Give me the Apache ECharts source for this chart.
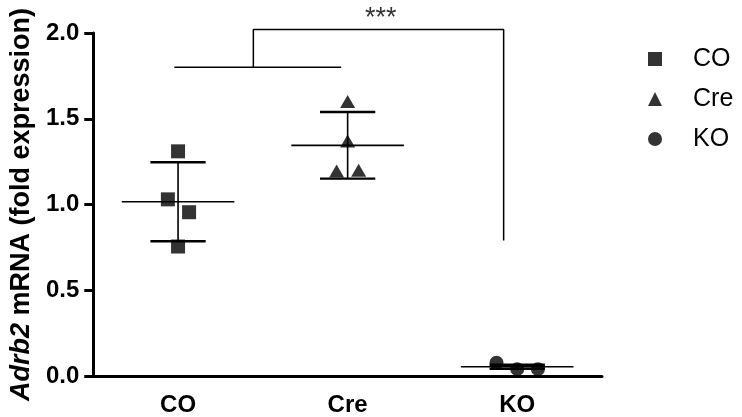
<!DOCTYPE html>
<html>
<head>
<meta charset="utf-8">
<script src="https://cdn.jsdelivr.net/npm/echarts@6/dist/echarts.min.js"></script>
<style>
  html, body { margin: 0; padding: 0; background: #fff; }
  #chart { width: 742px; height: 417px; }
</style>
</head>
<body>
<div id="chart"></div>
<script>
// groups on the x axis
const categories = ['CO', 'Cre', 'KO'];

// individual points (fold expression) and their horizontal jitter within the group
const coValues = [1.31, 1.03, 0.955, 0.755];
const coJitter = [0, -0.06, 0.065, 0];
const creValues = [1.60, 1.37, 1.195, 1.20];
const creJitter = [0, 0, -0.065, 0.065];
const koValues = [0.077, 0.04, 0.04];
const koJitter = [-0.122, 0, 0.122];

// mean and SD per group
const means = [1.016, 1.345, 0.054];
const sds = [0.23, 0.194, 0.012];

// significance bracket (x in group units, y in data units)
const bracketLow = [[0.478, 1.8], [1.462, 1.8]];
const bracketHigh = [[0.944, 1.8], [0.944, 2.02], [2.42, 2.02], [2.42, 0.79]];
const starLabel = '***';
const starPos = [1.695, 2.085];

const font = '"Liberation Sans", Arial, sans-serif';

function pts(values, jitter, idx) {
  return values.map((v, i) => [idx + 0.5 + jitter[i], v]);
}

function renderErrorBar(params, api) {
  const x = api.value(0), m = api.value(1), sd = api.value(2);
  const meanL = api.coord([x - 0.332, m]);
  const meanR = api.coord([x + 0.332, m]);
  const top = api.coord([x, m + sd]);
  const bot = api.coord([x, m - sd]);
  const capW = api.size([0.163, 0])[0];
  const black = { stroke: '#000', lineWidth: 1.6 };
  const cap = { stroke: '#000', lineWidth: 2.4 };
  return {
    type: 'group',
    children: [
      { type: 'line', shape: { x1: meanL[0], y1: meanL[1], x2: meanR[0], y2: meanR[1] }, style: black },
      { type: 'line', shape: { x1: top[0], y1: top[1], x2: bot[0], y2: bot[1] }, style: black },
      { type: 'line', shape: { x1: top[0] - capW, y1: top[1], x2: top[0] + capW, y2: top[1] }, style: cap },
      { type: 'line', shape: { x1: bot[0] - capW, y1: bot[1], x2: bot[0] + capW, y2: bot[1] }, style: cap }
    ]
  };
}

const chart = echarts.init(document.getElementById('chart'), null, { renderer: 'canvas' });

const option = {
  animation: false,
  backgroundColor: '#fff',
  grid: { left: 87, right: 140, top: 33, bottom: 41 },
  legend: {
    data: categories,
    orient: 'vertical',
    left: 643,
    top: 41,
    itemWidth: 14,
    itemHeight: 14,
    itemGap: 14,
    textStyle: { fontFamily: font, fontSize: 25, color: '#000', padding: [0, 0, 0, 26], lineHeight: 26 }
  },
  xAxis: [
    {
      type: 'category',
      data: categories,
      axisLine: { lineStyle: { color: '#000', width: 3 } },
      axisTick: { alignWithLabel: true, length: 9, lineStyle: { color: '#000', width: 3 } },
      axisLabel: { color: '#000', fontFamily: font, fontWeight: 'bold', fontSize: 24, margin: 17 },
      splitLine: { show: false }
    },
    { type: 'value', min: 0, max: 3, show: false }
  ],
  yAxis: {
    type: 'value',
    min: 0,
    max: 2,
    interval: 0.5,
    name: '{i|Adrb2} mRNA (fold expression)',
    nameLocation: 'middle',
    nameRotate: 90,
    nameGap: 58,
    nameTextStyle: {
      color: '#000', fontFamily: font, fontWeight: 'bold', fontSize: 27,
      rich: { i: { fontStyle: 'italic', fontWeight: 'bold', fontSize: 27, fontFamily: font, color: '#000' } }
    },
    axisLine: { show: true, lineStyle: { color: '#000', width: 3 } },
    axisTick: { show: true, length: 9, lineStyle: { color: '#000', width: 3 } },
    axisLabel: {
      color: '#000', fontFamily: font, fontWeight: 'bold', fontSize: 24, margin: 14,
      formatter: v => v.toFixed(1)
    },
    splitLine: { show: false }
  },
  series: [
    {
      type: 'custom',
      xAxisIndex: 1,
      renderItem: renderErrorBar,
      data: means.map((m, i) => [i + 0.5, m, sds[i]]),
      z: 2,
      silent: true
    },
    {
      type: 'line',
      xAxisIndex: 1,
      data: bracketLow,
      symbol: 'none',
      clip: false,
      lineStyle: { color: '#000', width: 1.5 },
      silent: true
    },
    {
      type: 'line',
      xAxisIndex: 1,
      data: bracketHigh,
      symbol: 'none',
      clip: false,
      lineStyle: { color: '#000', width: 1.5 },
      silent: true
    },
    {
      type: 'scatter',
      xAxisIndex: 1,
      data: [starPos],
      symbolSize: 0,
      clip: false,
      label: {
        show: true, position: 'inside', formatter: starLabel,
        color: '#000', fontFamily: font, fontSize: 27, fontWeight: 'normal'
      },
      silent: true
    },
    {
      name: 'CO', type: 'scatter', xAxisIndex: 1, symbol: 'rect', symbolSize: 14,
      itemStyle: { color: '#000' }, data: pts(coValues, coJitter, 0), z: 5
    },
    {
      name: 'Cre', type: 'scatter', xAxisIndex: 1, symbol: 'triangle', symbolSize: [15, 13],
      itemStyle: { color: '#000' }, data: pts(creValues, creJitter, 1), z: 5
    },
    {
      name: 'KO', type: 'scatter', xAxisIndex: 1, symbol: 'circle', symbolSize: 14,
      itemStyle: { color: '#000' }, data: pts(koValues, koJitter, 2), z: 5
    }
  ]
};

chart.setOption(option);
</script>
</body>
</html>
